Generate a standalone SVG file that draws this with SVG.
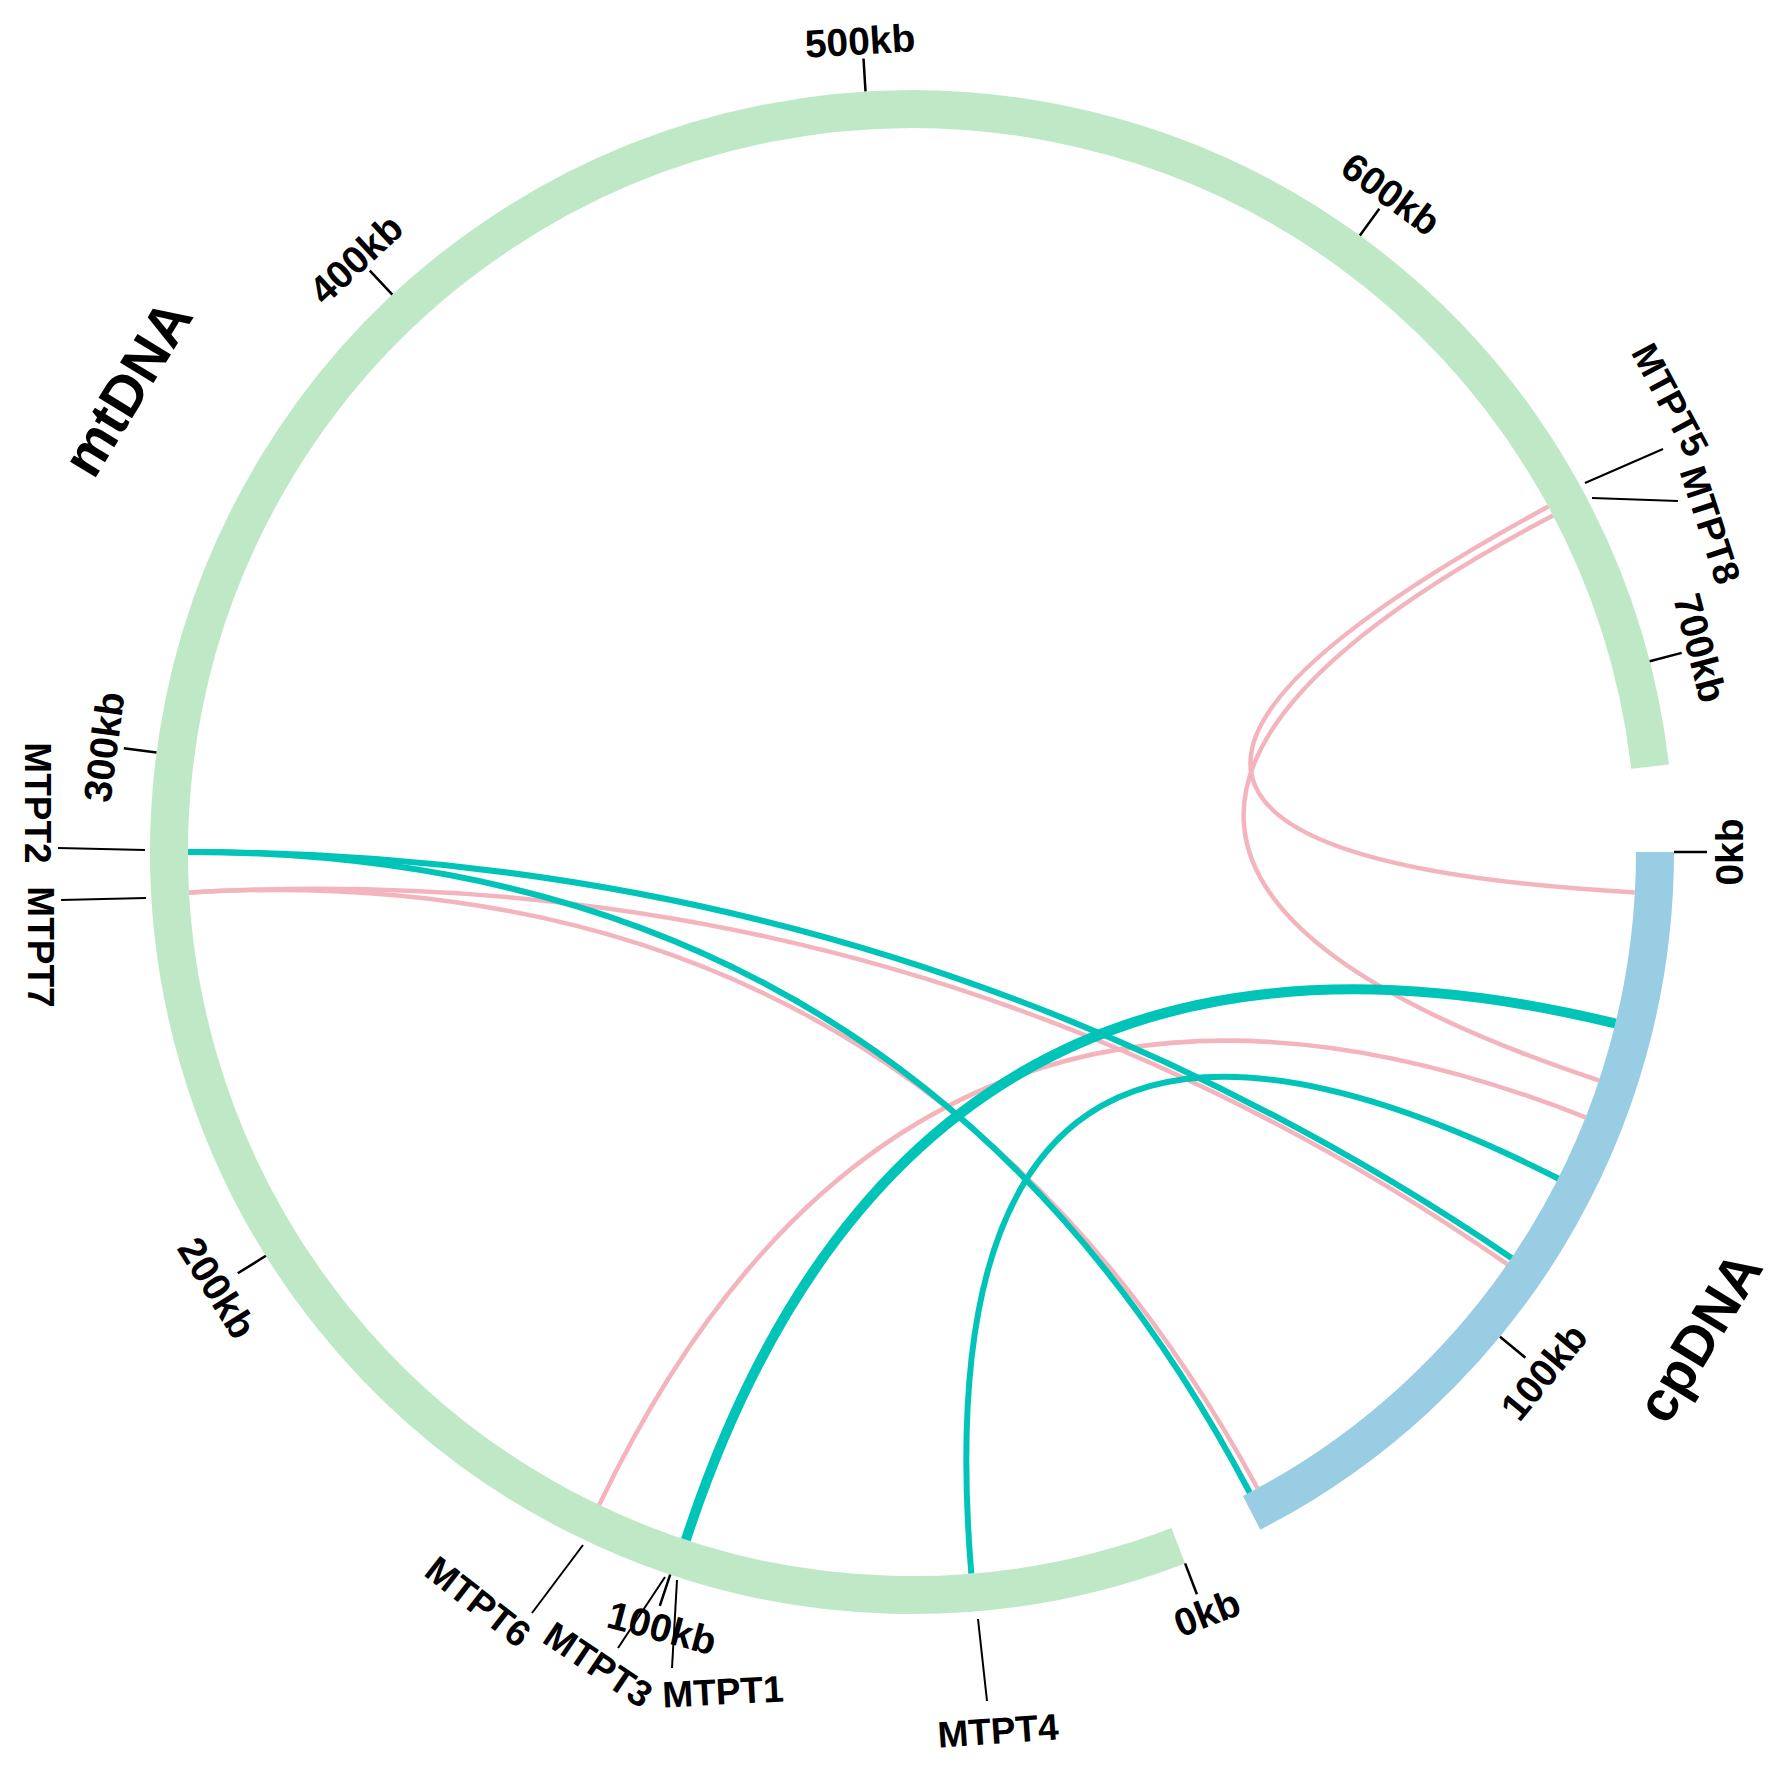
<svg xmlns="http://www.w3.org/2000/svg" width="1778" height="1765" viewBox="0 0 1778 1765">
<style>
.t{font-family:"Liberation Sans",Arial,sans-serif;font-weight:bold;fill:#000;text-anchor:middle;dominant-baseline:central}
.kb{font-size:39px}
.g{font-size:37px}
.big{font-size:57px}
.tick{stroke:#000;stroke-width:2.5;fill:none}
.gl{stroke:#000;stroke-width:2;fill:none}
.arc{fill:none;stroke-width:38}
.pink{fill:none;stroke:#f3b4bd;stroke-width:4.5}
.teal{fill:none;stroke:#00c4b8;stroke-width:6}
.thick{stroke-width:10}
</style>
<rect width="1778" height="1765" fill="#fff"/>
<g id="mtDNA">
<path class="arc" stroke="#bfe9c6" d="M1178.3,1545.7 A743,743 0 1 1 1650.1,766.6"/>
<path class="tick" d="M1185.1,1563.4L1196.9,1594.2M670.2,1574.6L659.8,1605.9M265.8,1255.8L237.8,1273.3M156.5,752.5L123.8,748.2M392.3,294.7L369.8,270.6M865.5,91.4L863.5,58.5M1359.9,235.5L1379.3,208.8M1649.7,661.2L1681.7,652.9"/>
<text class="t kb" transform="translate(1207,1613) rotate(-21)">0kb</text>
<text class="t kb" transform="translate(662,1628) rotate(15)">100kb</text>
<text class="t kb" transform="translate(217,1288) rotate(58)">200kb</text>
<text class="t kb" transform="translate(104,747) rotate(-82.5)">300kb</text>
<text class="t kb" transform="translate(356,259) rotate(-43)">400kb</text>
<text class="t kb" transform="translate(860,41) rotate(-3.5)">500kb</text>
<text class="t kb" transform="translate(1391,194) rotate(36)">600kb</text>
<text class="t kb" transform="translate(1700,648) rotate(75.5)">700kb</text>
<text class="t big" transform="translate(127,388) rotate(-58.6)">mtDNA</text>
</g>
<g id="cpDNA">
<path class="arc" stroke="#98cde3" d="M1655,852 A743,743 0 0 1 1251.6,1512.8"/>
<path class="tick" d="M1674,852L1707,852M1500,1336.7L1525.4,1357.7"/>
<text class="t kb" transform="translate(1729,852) rotate(-90)">0kb</text>
<text class="t kb" transform="translate(1544,1372) rotate(-50.5)">100kb</text>
<text class="t big" style="font-size:56px" transform="translate(1699,1337) rotate(-58.6)">cpDNA</text>
</g>
<g id="connectors">
<path class="pink" d="M1548.3,506.5Q912,852 1634.9,892.4"/>
<path class="pink" d="M1553,515.5Q912,852 1599,1080.5"/>
<path class="pink" d="M189.1,892.4Q912,852 1507.2,1264.2"/>
<path class="pink" d="M189.1,892.4Q912,852 1257.5,1488.3"/>
<path class="pink" d="M599.2,1504.9Q912,852 1585.6,1117.3"/>
<path class="teal" d="M188,852Q912,852 1511.5,1257.9"/>
<path class="teal" d="M188,852Q912,852 1249.7,1492.5"/>
<path class="teal thick" d="M685.9,1539.8Q912,852 1615.4,1023.5"/>
<path class="teal" d="M971.3,1573.6Q912,852 1558.2,1178.5"/>
</g>
<g id="MTPT5"><path class="gl" d="M1585,483L1663,449"/><text class="t g" transform="translate(1670,400) rotate(62)">MTPT5</text></g>
<g id="MTPT8"><path class="gl" d="M1592,498L1678,501"/><text class="t g" transform="translate(1710,525) rotate(72)">MTPT8</text></g>
<g id="MTPT2"><path class="gl" d="M145,850L58,848"/><text class="t g" transform="translate(37,803) rotate(90)">MTPT2</text></g>
<g id="MTPT7"><path class="gl" d="M146,898L61,900"/><text class="t g" transform="translate(40,947) rotate(90)">MTPT7</text></g>
<g id="MTPT6"><path class="gl" d="M583,1545L532,1613"/><text class="t g" transform="translate(478,1602) rotate(38)">MTPT6</text></g>
<g id="MTPT3"><path class="gl" d="M665,1577L618,1648"/><text class="t g" transform="translate(598,1665) rotate(34)">MTPT3</text></g>
<g id="MTPT1"><path class="gl" d="M677,1580L672,1668"/><text class="t g" transform="translate(723,1692) rotate(-3)">MTPT1</text></g>
<g id="MTPT4"><path class="gl" d="M978,1619L987,1701"/><text class="t g" transform="translate(998,1731) rotate(-4)">MTPT4</text></g>
</svg>
